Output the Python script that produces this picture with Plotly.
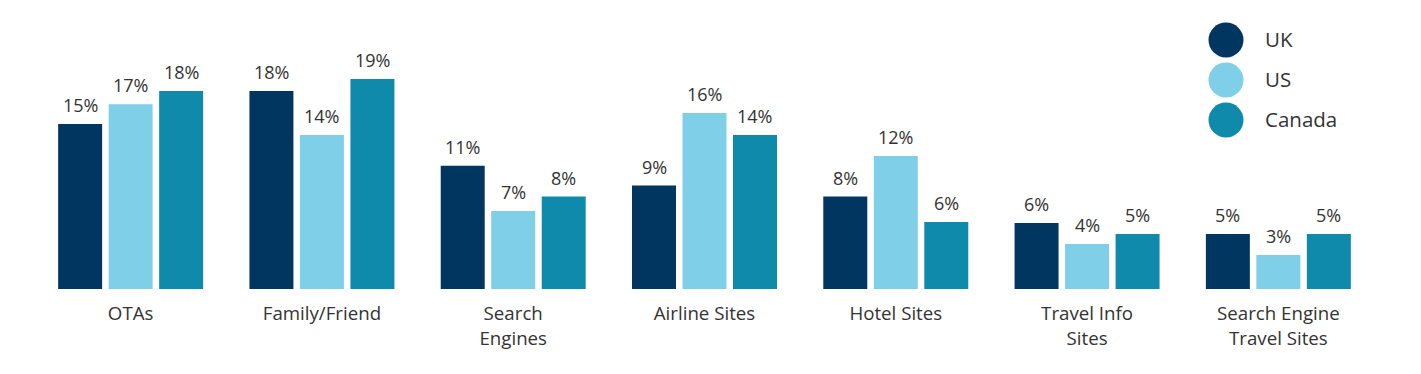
import plotly.graph_objects as go

categories = ["OTAs", "Family/Friend", "Search<br>Engines", "Airline Sites",
              "Hotel Sites", "Travel Info<br>Sites", "Search Engine<br>Travel Sites"]
series_names = ["UK", "US", "Canada"]
uk = [15, 18, 11.2, 9.4, 8.4, 6, 5]
us = [16.8, 14, 7.1, 16, 12.1, 4.1, 3.1]
canada = [18, 19.1, 8.4, 14, 6.1, 5, 5]
colors = ["#003660", "#7fcfe9", "#0f8aab"]

FONT = "Open Sans"
TXT = "#333333"

# page body adds an 8px offset; figure coordinates below account for it
W, H = 1421, 374
L, R, T, B = 27, 55, 6, 93
BARGAP, GROUPGAP = 0.208, 0.129
pw = W - L - R
ph = H - T - B
slot = pw / len(categories) * (1 - BARGAP) / len(series_names)

fig = go.Figure()
for i, (name, vals, col) in enumerate(zip(series_names, [uk, us, canada], colors)):
    fig.add_trace(go.Bar(
        x=categories, y=vals, name=name, marker=dict(color=col, line=dict(width=0)),
        showlegend=False, hoverinfo="skip"))
    for c, v in zip(categories, vals):
        fig.add_annotation(x=c, y=v, text=f"{v:.0f}%", showarrow=False,
                           xanchor="center", yanchor="bottom",
                           xshift=(i - 1) * slot, yshift=5,
                           font=dict(family=FONT, size=18, color=TXT))

# legend drawn as circles + labels
cx = (1218 - L) / pw
rx = 17.5 / pw
ry = 17.5 / ph
for i, (name, col) in enumerate(zip(series_names, colors)):
    cy = (H - B - (32 + 40 * i)) / ph
    fig.add_shape(type="circle", xref="paper", yref="paper",
                  x0=cx - rx, x1=cx + rx, y0=cy - ry, y1=cy + ry,
                  fillcolor=col, line=dict(width=0))
    fig.add_annotation(xref="paper", yref="paper", x=(1255 - L) / pw, y=cy + 1 / ph,
                       text=name, showarrow=False, xanchor="left", yanchor="middle",
                       font=dict(family=FONT, size=20.5, color=TXT))

fig.update_layout(
    width=W, height=H,
    margin=dict(l=L, r=R, t=T, b=B),
    paper_bgcolor="white", plot_bgcolor="white",
    barmode="group", bargap=BARGAP, bargroupgap=GROUPGAP,
    showlegend=False,
    font=dict(family=FONT, size=18, color=TXT),
    xaxis=dict(showgrid=False, showline=False, zeroline=False,
               ticks="outside", ticklen=8, tickcolor="rgba(0,0,0,0)",
               tickfont=dict(family=FONT, size=18.7, color=TXT)),
    yaxis=dict(range=[0, 25], visible=False, showgrid=False, zeroline=False),
)

fig.write_html("out.html")
